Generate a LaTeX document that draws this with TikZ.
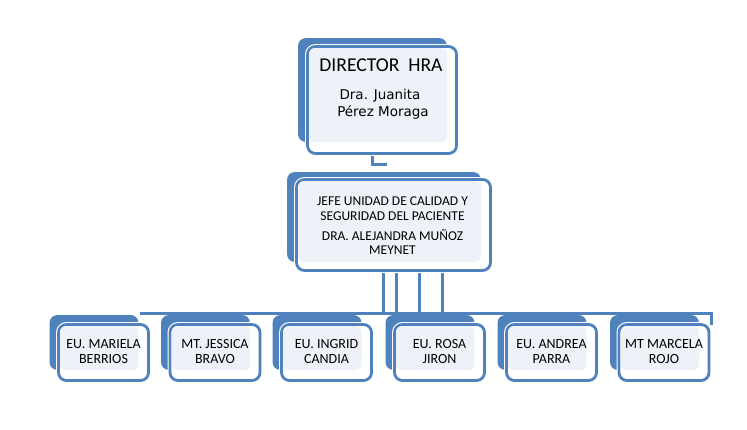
\documentclass[tikz,border=0pt]{standalone}
\usepackage{fontspec}
\setmainfont{Carlito}
\newfontfamily\dejavu{DejaVu Sans}
\usetikzlibrary{backgrounds,calc}
\definecolor{obl}{HTML}{4F81BD}
\definecolor{olight}{HTML}{EEF2F8}
\tikzset{
  backbox/.style={fill=obl, draw=none, rounded corners=8pt, inner sep=0pt, outer sep=0pt},
  frontbox/.style={fill=white, draw=obl, line width=2.8pt, rounded corners=8pt, inner sep=0pt, outer sep=0pt,
    preaction={draw=white, line width=5pt}},
  lightfill/.style={fill=olight, rounded corners=6pt},
  lbl/.style={anchor=base, inner sep=0pt, font=\fontsize{13.5}{15}\selectfont},
  clbl/.style={anchor=base, inner sep=0pt, font=\fontsize{14}{15}\selectfont},
  conn/.style={draw=obl, line width=3pt},
}
\newcommand\childbox[5]{%
  \node[backbox, minimum width=89pt, minimum height=55pt] (#1b) at (#2-9.5,342.5) {};
  \node[frontbox, minimum width=90pt, minimum height=56pt] (#1) at (#2,352.5) {};
  \fill[lightfill] ([shift={(1.5pt,-1.5pt)}]#1.north west) rectangle (#1b.south east);
  \node[clbl] (#1t1) at (#2,348) {#3};
  \node[clbl] (#1t2) at (#2,363) {#4};
}
\begin{document}
\begin{tikzpicture}[x=1pt,y=-1pt]
\useasboundingbox (0,0) rectangle (747,429);
% Director
\node[backbox, minimum width=149pt, minimum height=104pt] (dirb) at (372.5,90) {};
\node[frontbox, minimum width=149pt, minimum height=107pt] (dir) at (382,100) {};
\fill[lightfill] ([shift={(1.5pt,-1.5pt)}]dir.north west) rectangle (dirb.south east);
\node[anchor=base, inner sep=0pt, font=\fontsize{19.6}{22}\selectfont] (dirt1) at (381,71) {DIRECTOR\ \ HRA};
\node[anchor=base, inner sep=0pt, font=\dejavu\fontsize{13.5}{16}\selectfont] (dirt2) at (380,99) {Dra. Juanita};
\node[anchor=base, inner sep=0pt, font=\dejavu\fontsize{13.5}{16}\selectfont] (dirt3) at (383,116) {Pérez Moraga};
% Jefe
\node[backbox, minimum width=194pt, minimum height=90pt] (jefeb) at (384,217) {};
\node[frontbox, minimum width=194pt, minimum height=91pt] (jefe) at (393.5,225) {};
\fill[lightfill] ([shift={(1.5pt,-1.5pt)}]jefe.north west) rectangle (jefeb.south east);
\node[lbl] (jt1) at (392.5,205) {JEFE UNIDAD DE CALIDAD Y};
\node[lbl] (jt2) at (392.5,220) {SEGURIDAD DEL PACIENTE};
\node[lbl] (jt3) at (392.5,240) {DRA. ALEJANDRA MUÑOZ};
\node[lbl] (jt4) at (392.5,254.5) {MEYNET};
% children
\childbox{c1}{103.5}{EU. MARIELA}{BERRIOS}{}
\childbox{c2}{215}{MT. JESSICA}{BRAVO}{}
\childbox{c3}{326.5}{EU. INGRID}{CANDIA}{}
\childbox{c4}{439.5}{EU. ROSA}{JIRON}{}
\childbox{c5}{551.5}{EU. ANDREA}{PARRA}{}
\childbox{c6}{664}{MT MARCELA}{ROJO}{}
% connectors
\coordinate (dj) at (387,164);
\coordinate (busL) at (140,313);
\coordinate (busR) at (711,313);
\begin{scope}[on background layer]
\draw[conn] ([xshift=-10pt]dir.south) |- (dj);
\foreach \s in {-10.5,2.5,25.5,48.5}
  \draw[conn] ([xshift=\s pt]jefe.south) -- ([xshift=\s pt]jefe.south |- busL);
\draw[conn] (busL) -- (busR) -- (busR |- c6.north);
\end{scope}
\end{tikzpicture}
\end{document}
